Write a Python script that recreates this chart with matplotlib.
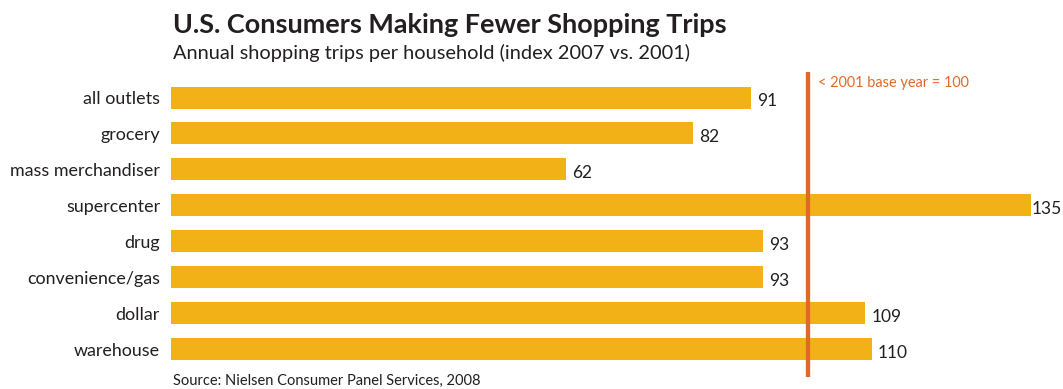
import matplotlib
matplotlib.use("Agg")
import matplotlib.pyplot as plt

# Data
categories = ["all outlets", "grocery", "mass merchandiser", "supercenter",
              "drug", "convenience/gas", "dollar", "warehouse"]
index_values = [91, 82, 62, 135, 93, 93, 109, 110]
base_value = 100

title = "U.S. Consumers Making Fewer Shopping Trips"
subtitle = "Annual shopping trips per household (index 2007 vs. 2001)"
source = "Source: Nielsen Consumer Panel Services, 2008"
base_note = "< 2001 base year = 100"

BAR = "#F3B118"
LINE = "#E0692A"
TEXT = "#231F20"
FONT = ["Lato", "DejaVu Sans"]

W, H = 1063, 389
fig = plt.figure(figsize=(W / 100, H / 100), dpi=100)
fig.patch.set_facecolor("white")

# axes spans from the bar baseline to the right edge, full height
x0 = 171
ax = fig.add_axes([x0 / W, 0, 1 - x0 / W, 1])
px_per_unit = 6.37
ax.set_xlim(0, (W - x0) / px_per_unit)
row = 35.93
first = 97.5
ax.set_ylim((H - first) / row, -first / row)
ax.axis("off")

ypos = list(range(len(categories)))
ax.barh(ypos, index_values, height=22 / row, color=BAR, zorder=1)

# base-year reference line
ax.plot([base_value, base_value], [(72 - first) / row, (377 - first) / row],
        color=LINE, lw=4.3 * 0.72, solid_capstyle="butt", zorder=3)

fig.canvas.draw()
renderer = fig.canvas.get_renderer()


def fit(t, width_px):
    for _ in range(2):
        w = t.get_window_extent(renderer).width
        t.set_fontsize(t.get_fontsize() * width_px / w)


def fy(py):
    return 1 - py / H


t = fig.text(173 / W, fy(33), title, fontsize=20, fontweight="bold",
             family=FONT, color=TEXT, va="baseline", ha="left")
fit(t, 552)
t = fig.text(173 / W, fy(59), subtitle, fontsize=15, family=FONT,
             color=TEXT, va="baseline", ha="left")
fit(t, 515)
t = fig.text(173 / W, fy(385), source, fontsize=11, family=FONT,
             color=TEXT, va="baseline", ha="left")
fit(t, 307)

# category labels
labels = []
for i, c in enumerate(categories):
    t = fig.text(160 / W, fy(first + i * row + 6.5), c, fontsize=12.5,
                 family=FONT, color=TEXT, va="baseline", ha="right")
    labels.append(t)
fit(labels[categories.index("mass merchandiser")], 150)
lab_size = labels[categories.index("mass merchandiser")].get_fontsize()
for t in labels:
    t.set_fontsize(lab_size)

# value labels, kept inside the right edge
for i, v in enumerate(index_values):
    a = ax.annotate(str(v), xy=(v, i), xytext=(6 * 0.72, -8.5 * 0.72),
                    textcoords="offset points", fontsize=12.5, family=FONT,
                    color=TEXT, va="baseline", ha="left", annotation_clip=False)
    over = a.get_window_extent(renderer).x1 - (W - 1)
    if over > 0:
        a.set_position((6 * 0.72 - over * 0.72, -8.5 * 0.72))

t = ax.annotate(base_note, xy=(base_value, (86.7 - first) / row),
                xytext=(10 * 0.72, 0), textcoords="offset points",
                fontsize=11, family=FONT, color=LINE, va="baseline", ha="left")
fit(t, 152)

fig.savefig("out.png", dpi=100, facecolor="white")
